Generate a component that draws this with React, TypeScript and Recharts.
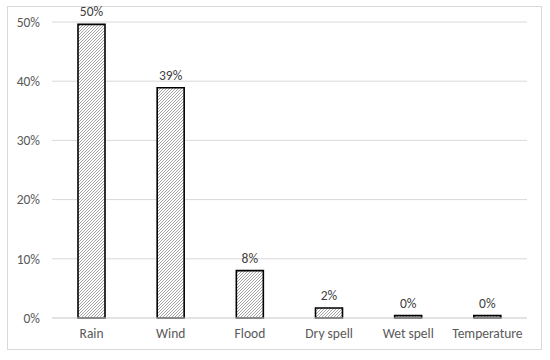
import { Bar, BarChart, CartesianGrid, LabelList, XAxis, YAxis } from "recharts";

const hazards = ["Rain", "Wind", "Flood", "Dry spell", "Wet spell", "Temperature"];
const shares = [49.6, 38.9, 8.0, 1.7, 0.4, 0.4];
const yTicks = [0, 10, 20, 30, 40, 50];

const data = hazards.map((name, i) => ({ name, share: shares[i] }));

const font = "Carlito, 'Open Sans', sans-serif";

export default function App() {
  return (
    <div style={{ position: "absolute", left: 0, top: 0, width: 550, height: 360, background: "#fff" }}>
      <div
        style={{
          position: "absolute",
          left: 7,
          top: 6,
          width: 535,
          height: 344,
          border: "1px solid #d9d9d9",
          boxSizing: "border-box",
        }}
      />
      <BarChart
        width={550}
        height={360}
        data={data}
        margin={{ top: 22, right: 23, bottom: 12, left: 0 }}
        style={{ position: "absolute", left: 0, top: 0, fontFamily: font }}
      >
        <defs>
          <pattern id="hatch" patternUnits="userSpaceOnUse" width={3} height={3}>
            <rect width={3} height={3} fill="#fff" />
            <path d="M-1,1 l2,-2 M0,3 l3,-3 M2,4 l2,-2" stroke="#8c8c8c" strokeWidth={0.8} />
          </pattern>
        </defs>
        <CartesianGrid vertical={false} stroke="#d9d9d9" />
        <XAxis
          dataKey="name"
          height={30}
          tickLine={false}
          tickSize={0}
          tickMargin={10}
          axisLine={{ stroke: "#d9d9d9" }}
          tick={{ fill: "#595959", fontSize: 13.5 }}
          interval={0}
        />
        <YAxis
          width={52}
          domain={[0, 50]}
          ticks={yTicks}
          tickFormatter={(v: number) => `${v}%`}
          axisLine={false}
          tickLine={false}
          tickSize={0}
          tickMargin={12}
          tick={{ fill: "#595959", fontSize: 13.5 }}
        />
        <Bar dataKey="share" barSize={27} fill="url(#hatch)" stroke="#000" strokeWidth={1.6} isAnimationActive={false}>
          <LabelList
            dataKey="share"
            position="top"
            offset={8}
            formatter={(v: number) => `${Math.round(v)}%`}
            style={{ fill: "#404040", fontSize: 13.5 }}
          />
        </Bar>
      </BarChart>
    </div>
  );
}
